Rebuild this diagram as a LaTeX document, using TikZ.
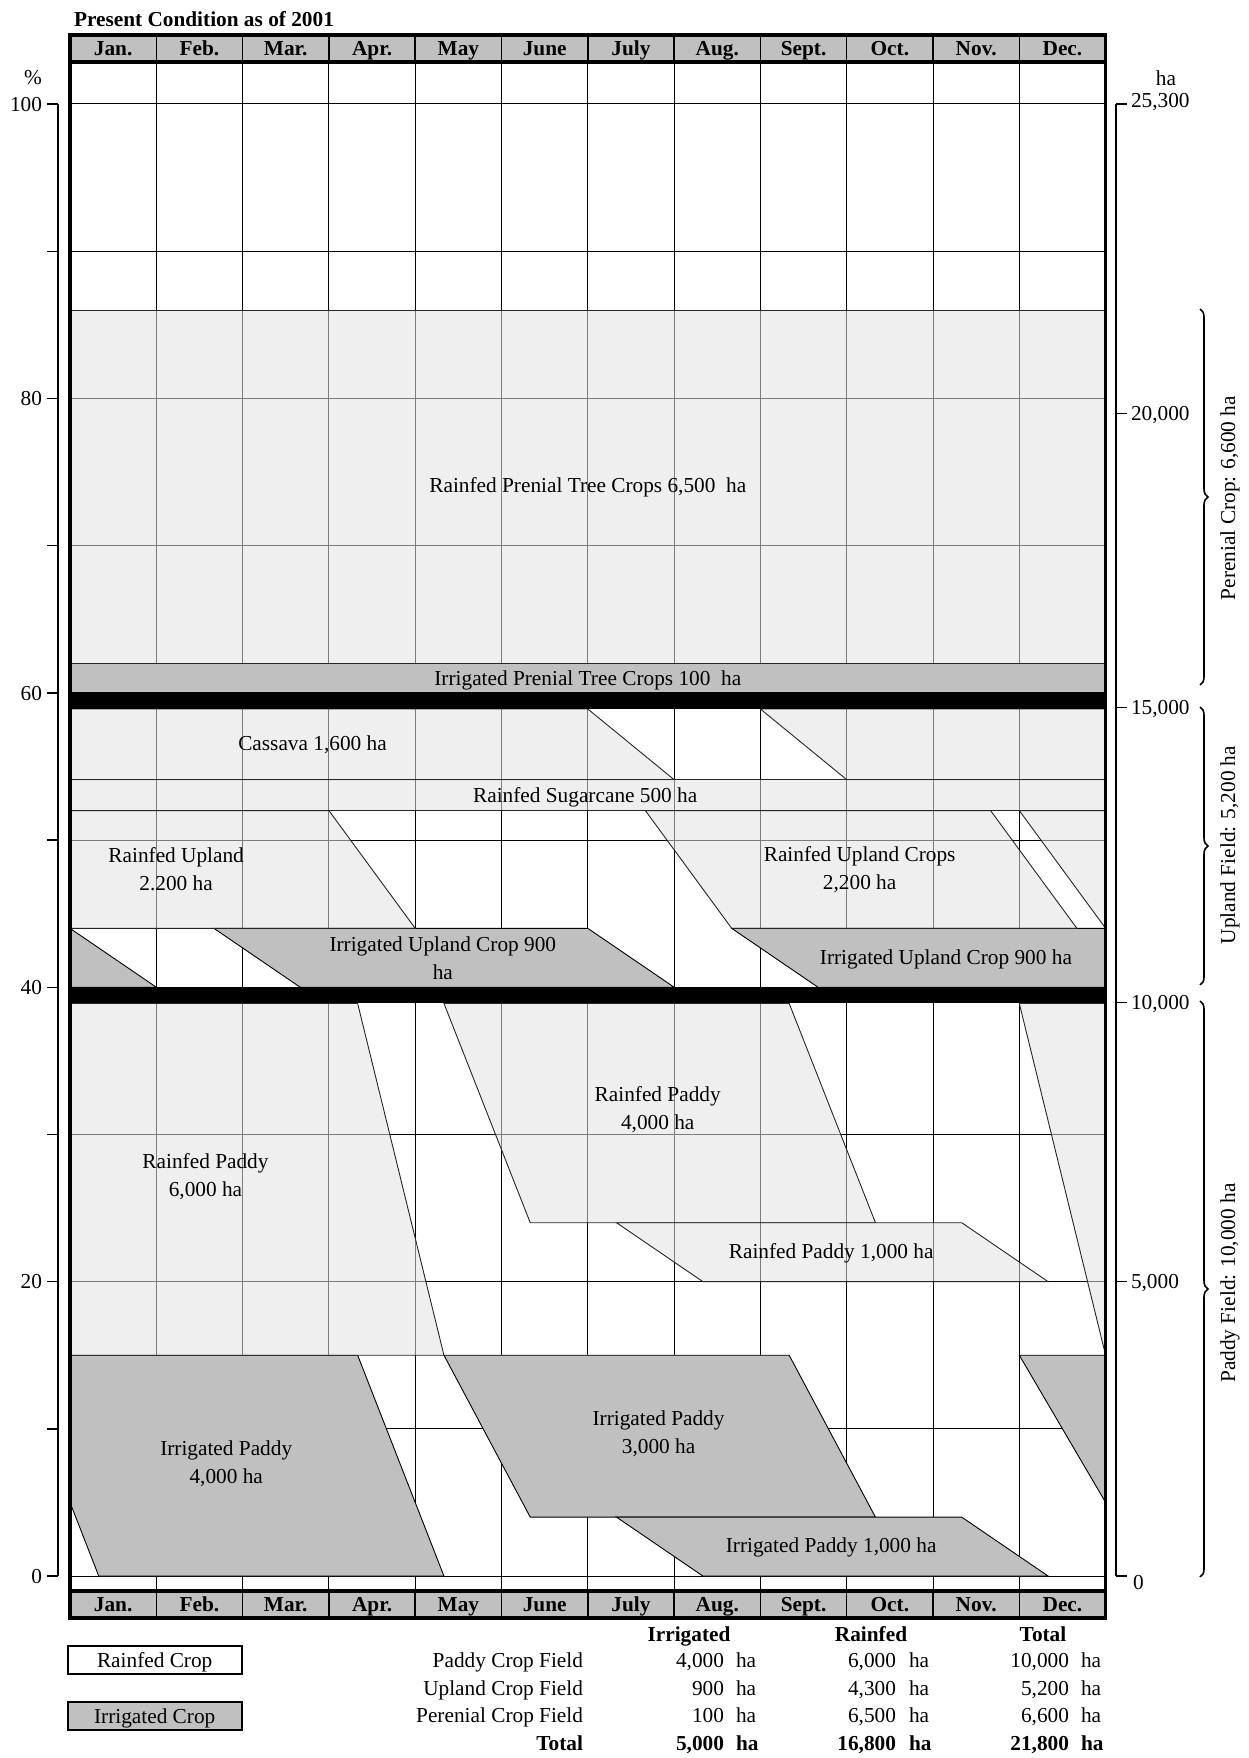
\documentclass[tikz,border=0pt]{standalone}
\usepackage{fontspec}
\setmainfont{Liberation Serif}
\usetikzlibrary{decorations.pathreplacing}
\definecolor{irr}{HTML}{C0C0C0}
\definecolor{rfd}{HTML}{E2E2E2}
\begin{document}
\begin{tikzpicture}[x=1pt,y=-1pt,
  every node/.style={font=\fontsize{21.3}{28}\selectfont, inner sep=0pt, outer sep=0pt},
  txt/.style={align=center},
  one/.style={text height=14.4pt, text depth=0pt},
  hd/.style={font=\fontsize{21.3}{28}\selectfont\bfseries, text height=14.4pt, text depth=0pt},
  gridline/.style={line width=1pt, draw=black},
  irrshape/.style={fill=irr, draw=black, line width=0.9pt},
  rfdshape/.style={fill=rfd, fill opacity=0.55, draw=black!85, line width=0.9pt},
  band/.style={fill=black},
  axisline/.style={line width=1.4pt},
  bracestyle/.style={decorate, decoration={brace, amplitude=8pt}, line width=1.6pt},
  legendbox/.style={draw=black, line width=2pt, minimum width=174pt, minimum height=28.3pt, text height=14.4pt, text depth=0pt}
]
\useasboundingbox (0,0) rectangle (1249,1758);

% ---------- chart body (months x percent) ----------
\begin{scope}[shift={(70pt,-1576pt)}, x=86.3pt, y=14.72pt]
  % grid
  \foreach \m in {1,...,11} \draw[gridline] (\m,102.85) -- (\m,-1.02);
  \foreach \p in {0,10,...,100} \draw[gridline] (0,\p) -- (12,\p);

  % irrigated (opaque) shapes
  \draw[irrshape] (0,62) rectangle (12,60);
  \draw[irrshape] (0,44) -- (1,40) -- (0,40) -- cycle;
  \draw[irrshape] (1.667,44) -- (6,44) -- (7,40) -- (2.667,40) -- cycle;
  \draw[irrshape] (7.667,44) -- (12,44) -- (12,40) -- (8.667,40) -- cycle;
  \draw[irrshape] (0,15) -- (3.333,15) -- (4.333,0) -- (0.333,0) -- (0,5) -- cycle;
  \draw[irrshape] (11,15) -- (12,15) -- (12,5) -- cycle;
  \draw[irrshape] (4.333,15) -- (8.333,15) -- (9.333,4) -- (5.333,4) -- cycle;
  \draw[irrshape] (6.333,4) -- (10.333,4) -- (11.333,0) -- (7.333,0) -- cycle;

  % rainfed (light) shapes
  \draw[rfdshape] (0,86) rectangle (12,62);
  \draw[rfdshape] (0,58.9) -- (6,58.9) -- (7,54.1) -- (0,54.1) -- cycle;
  \draw[rfdshape] (8,58.9) -- (12,58.9) -- (12,54.1) -- (9,54.1) -- cycle;
  \draw[rfdshape] (0,54.1) rectangle (12,52);
  \draw[rfdshape] (0,52) -- (3,52) -- (4,44) -- (0,44) -- cycle;
  \draw[rfdshape] (6.667,52) -- (10.667,52) -- (11.667,44) -- (7.667,44) -- cycle;
  \draw[rfdshape] (11,52) -- (12,52) -- (12,44) -- cycle;
  \draw[rfdshape] (0,38.9) -- (3.333,38.9) -- (4.333,15) -- (0,15) -- cycle;
  \draw[rfdshape] (11,38.9) -- (12,38.9) -- (12,15) -- cycle;
  \draw[rfdshape] (4.333,38.9) -- (8.333,38.9) -- (9.333,24) -- (5.333,24) -- cycle;
  \draw[rfdshape] (6.333,24) -- (10.333,24) -- (11.333,20) -- (7.333,20) -- cycle;

  % black separator bands
  \fill[band] (0,60) rectangle (12,58.9);
  \fill[band] (0,40) rectangle (12,38.9);

  % labels
  \node[one] (lrpt) at (6,74.1) {Rainfed Prenial Tree Crops 6,500\ \ ha};
  \node[one] (lipt) at (6,61) {Irrigated Prenial Tree Crops 100\ \ ha};
  \node[one] (lcas) at (2.81,56.56) {Cassava 1,600 ha};
  \node[one] (lsug) at (5.97,53.06) {Rainfed Sugarcane 500 ha};
  \node[txt] (lrup1) at (1.23,48.0) {Rainfed Upland\\2.200 ha};
  \node[txt] (lrup2) at (9.15,48.0) {Rainfed Upland Crops\\2,200 ha};
  \node[txt] (liup1) at (4.32,42.0) {Irrigated Upland Crop 900\\ha};
  \node[one] (liup2) at (10.15,42.0) {Irrigated Upland Crop 900 ha};
  \node[txt] (lrp6) at (1.57,27.1) {Rainfed Paddy\\6,000 ha};
  \node[txt] (lip4) at (1.81,7.6) {Irrigated Paddy\\4,000 ha};
  \node[txt] (lrp4) at (6.81,31.7) {Rainfed Paddy\\4,000 ha};
  \node[txt] (lip3) at (6.82,9.65) {Irrigated Paddy\\3,000 ha};
  \node[one] (lrp1) at (8.82,22.06) {Rainfed Paddy 1,000 ha};
  \node[one] (lip1) at (8.82,2.1) {Irrigated Paddy 1,000 ha};
\end{scope}

% ---------- month headers ----------
\fill[irr] (70,35) rectangle (1105.6,62);
\fill[irr] (70,1591) rectangle (1105.6,1618);
\foreach \i in {1,...,11} {
  \draw[line width=1.5pt] ({70+86.3*\i},35) -- ({70+86.3*\i},62);
  \draw[line width=1.5pt] ({70+86.3*\i},1591) -- ({70+86.3*\i},1618);
}
\foreach \mon [count=\i from 0] in {Jan.,Feb.,Mar.,Apr.,May,June,July,Aug.,Sept.,Oct.,Nov.,Dec.} {
  \node[hd] (mt\i) at ({70+86.3*(\i+0.5)},48.5) {\mon};
  \node[hd] (mb\i) at ({70+86.3*(\i+0.5)},1604.5) {\mon};
}
\draw[line width=3.5pt] (70,35) rectangle (1105.6,1618);
\draw[line width=3.5pt] (70,62) -- (1105.6,62);
\draw[line width=3.5pt] (70,1591) -- (1105.6,1591);

% ---------- title ----------
\node[anchor=base west, font=\fontsize{21.3}{28}\selectfont\bfseries] (title) at (74,27) {Present Condition as of 2001};

% ---------- left axis ----------
\draw[axisline] (58,104) -- (58,1576);
\foreach \p in {0,10,...,100} \draw[axisline] (47,{1576-14.72*\p}) -- (58,{1576-14.72*\p});
\foreach \p in {0,20,...,100} \node[one, anchor=east] (la\p) at (42,{1576-14.72*\p}) {\p};
\node[one] (pct) at (33,77) {\%};

% ---------- right axis ----------
\draw[axisline] (1116,104) -- (1116,1576);
\foreach \r in {104,413.7,707.5,1002.4,1281.5,1576} \draw[axisline] (1116,\r) -- (1127,\r);
\node[one] (haunit) at (1166,78) {ha};
\node[one, anchor=west] (ra1) at (1131,100) {25,300};
\node[one, anchor=west] (ra2) at (1131,413.7) {20,000};
\node[one, anchor=west] (ra3) at (1131,707.5) {15,000};
\node[one, anchor=west] (ra4) at (1131,1002.4) {10,000};
\node[one, anchor=west] (ra5) at (1131,1281.5) {5,000};
\node[one, anchor=west] (ra6) at (1133,1582) {0};

% ---------- braces ----------
\draw[bracestyle] (1200,309) -- (1200,685);
\draw[bracestyle] (1200,707) -- (1200,985);
\draw[bracestyle] (1200,1001) -- (1200,1577);
\node[one, rotate=90] (bperen) at (1228,498) {Perenial Crop: 6,600 ha};
\node[one, rotate=90] (bupl) at (1228,845) {Upland Field: 5,200 ha};
\node[one, rotate=90] (bpad) at (1228,1283) {Paddy Field: 10,000 ha};

% ---------- legend ----------
\node[legendbox, fill=white] (legr) at (154.7,1660) {Rainfed Crop};
\node[legendbox, fill=irr] (legi) at (154.7,1716) {Irrigated Crop};

% ---------- summary table ----------
\node[hd] (thi) at (689,1634) {Irrigated};
\node[hd] (thr) at (871,1634) {Rainfed};
\node[hd] (tht) at (1043,1634) {Total};

\node[one, anchor=east] (r1) at (583,1660.5) {Paddy Crop Field};
\node[one, anchor=east] (r2) at (583,1688) {Upland Crop Field};
\node[one, anchor=east] (r3) at (583,1715.5) {Perenial Crop Field};
\node[hd, anchor=east] (r4) at (583,1743.5) {Total};

% row 1
\node[one, anchor=east] (ni1) at (724,1660.5) {4,000};
\node[one, anchor=west] (hi1) at (736,1660.5) {ha};
\node[one, anchor=east] (nr1) at (896,1660.5) {6,000};
\node[one, anchor=west] (hr1) at (909,1660.5) {ha};
\node[one, anchor=east] (nt1) at (1069,1660.5) {10,000};
\node[one, anchor=west] (ht1) at (1081,1660.5) {ha};
% row 2
\node[one, anchor=east] (ni2) at (724,1688) {900};
\node[one, anchor=west] (hi2) at (736,1688) {ha};
\node[one, anchor=east] (nr2) at (896,1688) {4,300};
\node[one, anchor=west] (hr2) at (909,1688) {ha};
\node[one, anchor=east] (nt2) at (1069,1688) {5,200};
\node[one, anchor=west] (ht2) at (1081,1688) {ha};
% row 3
\node[one, anchor=east] (ni3) at (724,1715.5) {100};
\node[one, anchor=west] (hi3) at (736,1715.5) {ha};
\node[one, anchor=east] (nr3) at (896,1715.5) {6,500};
\node[one, anchor=west] (hr3) at (909,1715.5) {ha};
\node[one, anchor=east] (nt3) at (1069,1715.5) {6,600};
\node[one, anchor=west] (ht3) at (1081,1715.5) {ha};
% total row
\node[hd, anchor=east] (nitot) at (724,1743.5) {5,000};
\node[hd, anchor=west] (hitot) at (736,1743.5) {ha};
\node[hd, anchor=east] (nrtot) at (896,1743.5) {16,800};
\node[hd, anchor=west] (hrtot) at (909,1743.5) {ha};
\node[hd, anchor=east] (nttot) at (1069,1743.5) {21,800};
\node[hd, anchor=west] (httot) at (1081,1743.5) {ha};
\end{tikzpicture}
\end{document}
